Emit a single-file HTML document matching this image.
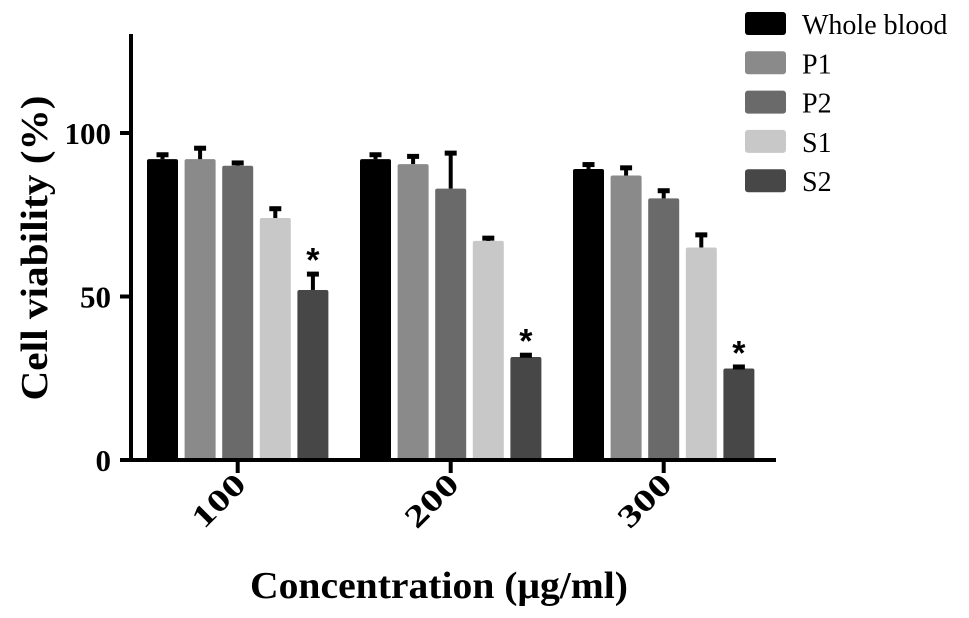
<!DOCTYPE html>
<html><head><meta charset="utf-8"><style>
html,body{margin:0;padding:0;background:#fff;}
svg{display:block;font-family:"Liberation Serif",serif;}
</style></head><body>
<svg id="chart" width="969" height="618" viewBox="0 0 969 618">
<g id="bars"></g>
<g id="axes"></g>
<g id="legend"></g>
<text x="439" y="598" text-anchor="middle" font-size="38" font-weight="bold" textLength="378" lengthAdjust="spacingAndGlyphs">Concentration (μg/ml)</text>
<text transform="translate(47,248) rotate(-90)" text-anchor="middle" font-size="38" font-weight="bold" textLength="305" lengthAdjust="spacingAndGlyphs">Cell  viability (%)</text>
</svg>
<script>
const categories = ["100","200","300"];
const seriesNames = ["Whole blood","P1","P2","S1","S2"];
const wholeBlood = [92, 92, 89];
const p1 = [92, 90.5, 87];
const p2 = [90, 83, 80];
const s1 = [74, 67, 65];
const s2 = [52, 31.5, 28];
const errWholeBlood = [1.5, 1.5, 1.5];
const errP1 = [3.5, 2.5, 2.5];
const errP2 = [1, 11, 2.5];
const errS1 = [3, 1, 4];
const errS2 = [5, 0.7, 0.6];
const significant = [false,false,false,false,true];
const yTicks = [0, 50, 100];

const colors = ["#000000","#8a8a8a","#6a6a6a","#c8c8c8","#474747"];
const values = [wholeBlood,p1,p2,s1,s2];
const errs = [errWholeBlood,errP1,errP2,errS1,errS2];
const NS="http://www.w3.org/2000/svg";
const y0=460, pxPer=3.27;
function yScale(v){return y0 - v*pxPer;}
const groupStart=147, groupStep=213, barStep=37.6, barW=31;
function xBar(g,s){return groupStart + g*groupStep + s*barStep;}
function mk(tag,attrs,parent){const e=document.createElementNS(NS,tag);for(const k in attrs)e.setAttribute(k,attrs[k]);parent.appendChild(e);return e;}
const bars=document.getElementById('bars'), axes=document.getElementById('axes'), legend=document.getElementById('legend');

categories.forEach((c,g)=>{
  values.forEach((arr,s)=>{
    const x=xBar(g,s), v=arr[g], top=yScale(v);
    const r=mk('rect',{x:x,y:top,width:barW,height:y0-top,rx:2,fill:colors[s]},bars);
    
    
    const et=yScale(v+errs[s][g]), cx=x+barW/2;
    const st=mk('rect',{x:cx-2,y:et,width:4,height:Math.max(0,top-et),fill:'#000'},bars);
    
    
    const cap=mk('rect',{x:cx-6,y:et-2,width:12,height:5,fill:'#000'},bars);
    
    
    if(significant[s]){
      const t=mk('text',{x:cx,y:et-2,'text-anchor':'middle','font-size':34,'font-weight':'bold','font-family':'Liberation Sans, sans-serif'},bars);
      t.textContent='*';
      
      
    }
  });
  const tx=xBar(g,2)+barW/2;
  const tk=mk('rect',{x:tx-2,y:460,width:4,height:13,fill:'#000'},axes);
  
  
  const lb=mk('text',{transform:`translate(${tx+10},${486}) rotate(-45)`,'text-anchor':'end','font-size':31,'font-weight':'bold',textLength:62,lengthAdjust:'spacingAndGlyphs'},axes);
  lb.textContent=c;
  
  
});

const ya=mk('rect',{x:129,y:34,width:4,height:428,fill:'#000'},axes);


const xa=mk('rect',{x:120,y:458,width:656,height:4,fill:'#000'},axes);


yTicks.forEach(v=>{
  const y=yScale(v);
  const t=mk('rect',{x:120,y:y-2,width:11,height:4,fill:'#000'},axes);
  
  
  const l=mk('text',{x:111,y:y+11,'text-anchor':'end','font-size':31,'font-weight':'bold'},axes);
  l.textContent=String(v);
  
  
});

seriesNames.forEach((n,i)=>{
  const y=12+i*39.3;
  const b=mk('rect',{x:745,y:y,width:41,height:23,rx:3,fill:colors[i]},legend);
  
  
  const t=mk('text',{x:802,y:y+22,'font-size':28},legend);
  t.textContent=n;
  
  
});
</script>
</body></html>
